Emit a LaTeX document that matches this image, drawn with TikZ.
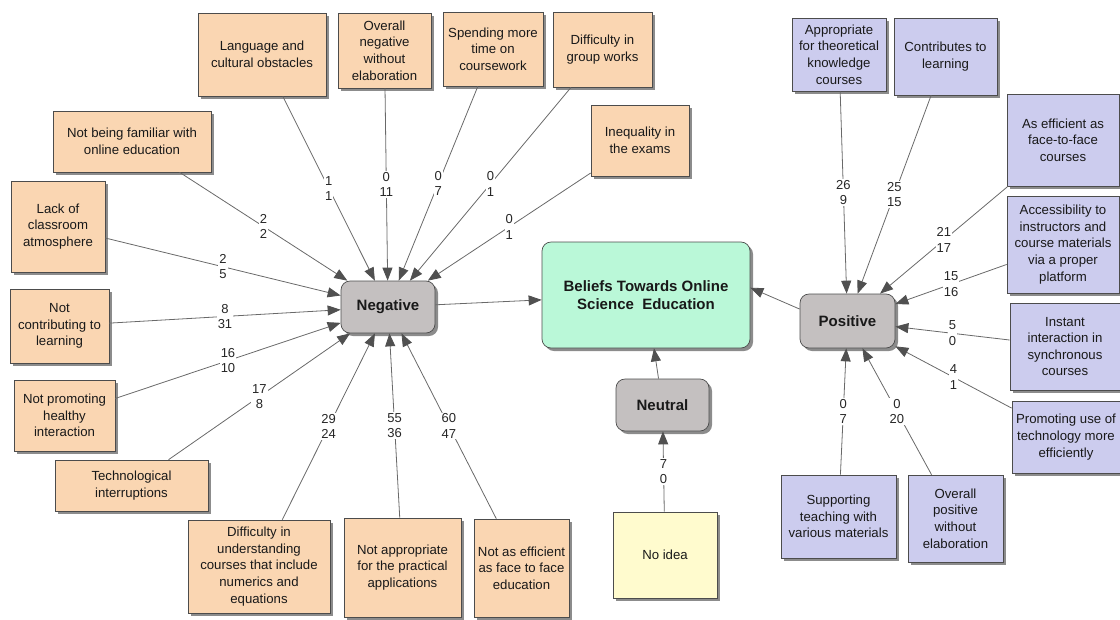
\documentclass[tikz,border=0pt]{standalone}
\usepackage{fontspec}
\setmainfont{Liberation Sans}
\usetikzlibrary{arrows.meta,shadows}
\definecolor{negfill}{RGB}{250,214,178}
\definecolor{posfill}{RGB}{204,204,238}
\definecolor{hubfill}{RGB}{196,192,192}
\definecolor{mainfill}{RGB}{186,248,216}
\definecolor{ideafill}{RGB}{255,251,206}
\definecolor{linegray}{RGB}{105,105,105}
\definecolor{tipgray}{RGB}{80,80,80}
\tikzset{
  box/.style={draw=black!70, line width=0.7pt, align=center, inner sep=2pt,
    text=black!90, font=\fontsize{13.2}{16.6}\selectfont,
    drop shadow={shadow xshift=3pt, shadow yshift=-3pt, fill=black!45, opacity=1}},
  negbox/.style={box, fill=negfill},
  posbox/.style={box, fill=posfill},
  hub/.style={box, fill=hubfill, rounded corners=9pt, font=\fontsize{15}{18.5}\selectfont\bfseries},
  conn/.style={draw=linegray, line width=0.8pt, -{Triangle[length=13pt,width=10pt,color=tipgray]}},
  cnt/.style={fill=white, align=center, inner sep=1pt, text=black!85, font=\fontsize{13}{15.5}\selectfont}
}
\begin{document}
\begin{tikzpicture}[x=1pt,y=-1pt]
  \useasboundingbox (0,0) rectangle (1120,619);
  % hubs
  \node (Ng) at (388,307) [hub, minimum width=94pt, minimum height=52pt] {Negative};
  \node (Bf) at (646,295) [hub, fill=mainfill, minimum width=208pt, minimum height=106pt] {Beliefs Towards Online\\Science\ \ Education};
  \node (Nt) at (662.5,405) [hub, minimum width=93pt, minimum height=52pt] {Neutral};
  \node (Ps) at (847.5,321) [hub, minimum width=95pt, minimum height=54pt] {Positive};
  \draw[conn] (Ng) -- (Bf);
  \draw[conn] (Nt) -- (Bf);
  \draw[conn] (Ps.166) -- (Bf.4);
  % negative
  \node (La) at (262,54.5) [negbox, minimum width=128pt, minimum height=83pt] {Language and\\cultural obstacles} edge [conn] node [cnt] {1\\1} (Ng);
  \node (Ov) at (384.5,50.5) [negbox, minimum width=93pt, minimum height=75pt] {Overall\\negative\\without\\elaboration} edge [conn] node [cnt] {0\\11} (Ng);
  \node (Sp) at (493,49) [negbox, minimum width=100pt, minimum height=74pt] {Spending more\\time on\\coursework} edge [conn] node [cnt] {0\\7} (Ng);
  \node (Gr) at (602.5,49.5) [negbox, minimum width=99pt, minimum height=75pt] {Difficulty in\\group works} edge [conn] node [cnt] {0\\1} (Ng);
  \node (In) at (640,140.5) [negbox, minimum width=98pt, minimum height=71pt] {Inequality in\\the exams} edge [conn] node [cnt] {0\\1} (Ng);
  \node (Fa) at (132,141.5) [negbox, minimum width=158pt, minimum height=61pt] {Not being familiar with\\online education} edge [conn] node [cnt] {2\\2} (Ng);
  \node (Lc) at (58,226.5) [negbox, minimum width=94pt, minimum height=91pt] {Lack of\\classroom\\atmosphere} edge [conn] node [cnt] {2\\5} (Ng);
  \node (Nc) at (59.5,326) [negbox, minimum width=99pt, minimum height=74pt] {Not\\contributing to\\learning} edge [conn] node [cnt] {8\\31} (Ng);
  \node (Np) at (64.5,415.5) [negbox, minimum width=101pt, minimum height=71pt] {Not promoting\\healthy\\interaction} edge [conn] node [cnt] {16\\10} (Ng);
  \node (Te) at (131.5,485.5) [negbox, minimum width=153pt, minimum height=51pt] {Technological\\interruptions} edge [conn] node [cnt] {17\\8} (Ng);
  \node (Du) at (259,566.5) [negbox, minimum width=142pt, minimum height=93pt] {Difficulty in\\understanding\\courses that include\\numerics and\\equations} edge [conn] node [cnt] {29\\24} (Ng);
  \node (Na) at (402.5,567.5) [negbox, minimum width=117pt, minimum height=99pt] {Not appropriate\\for the practical\\applications} edge [conn] node [cnt] {55\\36} (Ng);
  \node (Ne) at (521.5,568) [negbox, minimum width=95pt, minimum height=98pt] {Not as efficient\\as face to face\\education} edge [conn] node [cnt] {60\\47} (Ng);
  % positive
  \node (Ap) at (839,54.5) [posbox, minimum width=94pt, minimum height=73pt] {Appropriate\\for theoretical\\knowledge\\courses} edge [conn] node [cnt] {26\\9} (Ps);
  \node (Co) at (945.5,56.5) [posbox, minimum width=103pt, minimum height=77pt] {Contributes to\\learning} edge [conn] node [cnt] {25\\15} (Ps);
  \node (Ae) at (1063,140) [posbox, minimum width=112pt, minimum height=92pt] {As efficient as\\face-to-face\\courses} edge [conn] node [cnt] {21\\17} (Ps);
  \node (Ac) at (1063,244.5) [posbox, minimum width=112pt, minimum height=97pt] {Accessibility to\\instructors and\\course materials\\via a proper\\platform} edge [conn] node [cnt] {15\\16} (Ps);
  \node (Ii) at (1065,346.5) [posbox, minimum width=110pt, minimum height=87pt] {Instant\\interaction in\\synchronous\\courses} edge [conn] node [cnt] {5\\0} (Ps);
  \node (Pu) at (1066,437) [posbox, minimum width=108pt, minimum height=72pt] {Promoting use of\\technology more\\efficiently} edge [conn] node [cnt] {4\\1} (Ps);
  \node (St) at (838.5,516.5) [posbox, minimum width=115pt, minimum height=83pt] {Supporting\\teaching with\\various materials} edge [conn] node [cnt] {0\\7} (Ps);
  \node (Op) at (955.5,518.5) [posbox, minimum width=95pt, minimum height=87pt] {Overall\\positive\\without\\elaboration} edge [conn] node [cnt] {0\\20} (Ps);
  % neutral
  \node (Ni) at (665,555) [box, fill=ideafill, minimum width=104pt, minimum height=86pt] {No idea} edge [conn] node [cnt] {7\\0} (Nt);
\end{tikzpicture}
\end{document}
